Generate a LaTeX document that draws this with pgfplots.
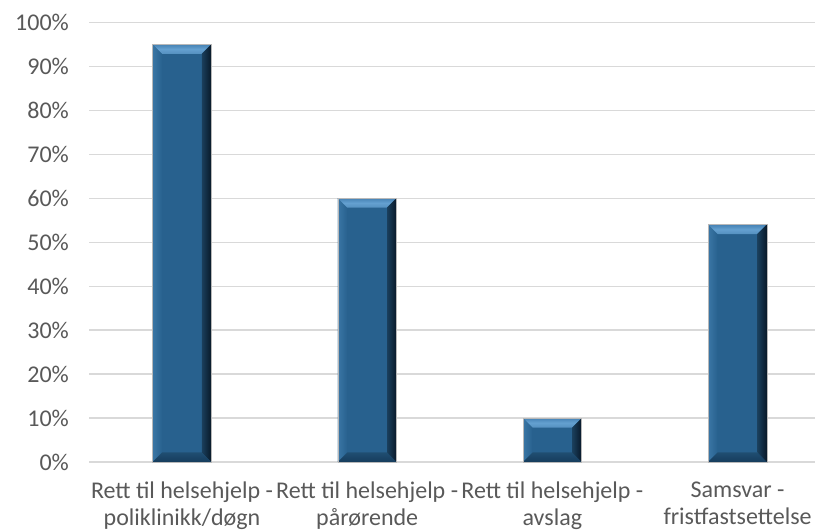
\documentclass[border=0pt]{standalone}
\usepackage{pgfplots}
\pgfplotsset{compat=1.18}
\usepackage{fontspec}
\setmainfont{Carlito}
\definecolor{barface}{RGB}{40,97,142}
\definecolor{bartop}{RGB}{100,160,208}
\definecolor{bartopin}{RGB}{70,130,180}
\definecolor{barleft}{RGB}{58,118,165}
\definecolor{barbottom}{RGB}{22,60,92}
\definecolor{barright}{RGB}{8,24,40}
\definecolor{gridgray}{RGB}{217,217,217}
\definecolor{textgray}{RGB}{89,89,89}
\tikzset{
  inner/.style={path picture={}, draw=none},
  bevelbar/.style={
    fill=barface, draw=black!28, line width=0.6pt,
    path picture={
      \def\bv{9.5pt}
      \path[inner] (path picture bounding box.north west) coordinate (NW)
        (path picture bounding box.north east) coordinate (NE)
        (path picture bounding box.south west) coordinate (SW)
        (path picture bounding box.south east) coordinate (SE);
      \shade[inner, left color=barleft, right color=barface] (NW) -- (SW) -- ([xshift=\bv,yshift=\bv]SW) -- ([xshift=\bv,yshift=-\bv]NW) -- cycle;
      \shade[inner, top color=barface!80!black, bottom color=barbottom] (SW) -- (SE) -- ([xshift=-\bv,yshift=\bv]SE) -- ([xshift=\bv,yshift=\bv]SW) -- cycle;
      \shade[inner, top color=bartopin, bottom color=bartop!75!barface, middle color=bartop] (NW) -- (NE) -- ([xshift=-\bv,yshift=-\bv]NE) -- ([xshift=\bv,yshift=-\bv]NW) -- cycle;
      \shade[inner, left color=barface!65!black, right color=barright] (NE) -- (SE) -- ([xshift=-\bv,yshift=\bv]SE) -- ([xshift=-\bv,yshift=-\bv]NE) -- cycle;
    }
  }
}
\begin{document}
\begin{tikzpicture}
\useasboundingbox (0pt,0pt) rectangle (815pt,532pt);
\begin{axis}[
  at={(89.4pt,70pt)}, anchor=south west,
  scale only axis, width=725.6pt, height=439.7pt,
  xmin=-0.5, xmax=3.418, ymin=0, ymax=100,
  ybar, bar width=58.7pt, bar shift=0pt,
  axis line style={draw=none},
  tick style={draw=none},
  ymajorgrids, grid style={gridgray, line width=1.2pt},
  ytick={0,10,...,100},
  yticklabel={\pgfmathprintnumber{\tick}\%},
  /pgf/number format/assume math mode=true,
  xtick={0,1,2,3},
  xticklabels={{Rett til helsehjelp -\\poliklinikk/døgn},{Rett til helsehjelp -\\pårørende},{Rett til helsehjelp -\\avslag},{Samsvar -\\fristfastsettelse}},
  xticklabel style={align=center, font=\fontsize{24}{27}\selectfont, text=textgray, yshift=-12pt},
  yticklabel style={font=\fontsize{24}{27}\selectfont, text=textgray, xshift=-17pt},
  clip=false,
]
\addplot[bevelbar] coordinates {(0,95)};
\addplot[bevelbar] coordinates {(1,60)};
\addplot[bevelbar] coordinates {(2,10)};
\addplot[bevelbar] coordinates {(3,54)};
\end{axis}
\end{tikzpicture}
\end{document}
